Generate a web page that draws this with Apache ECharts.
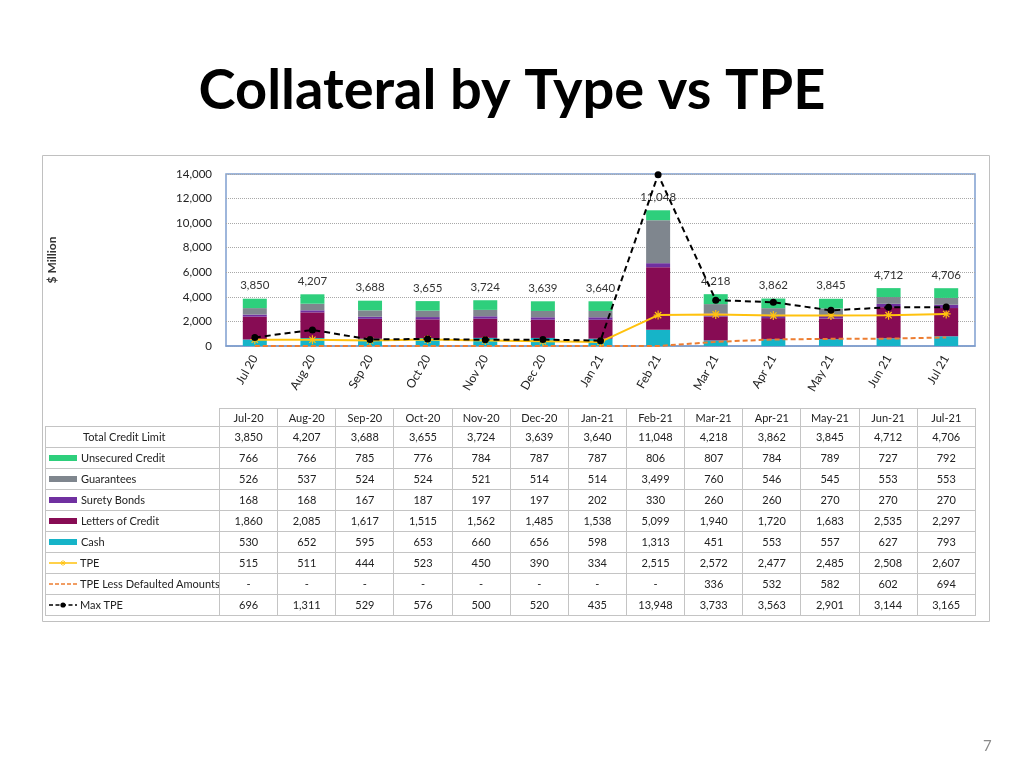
<!DOCTYPE html>
<html>
<head>
<meta charset="utf-8">
<script src="https://cdn.jsdelivr.net/npm/echarts@6/dist/echarts.min.js"></script>
<style>
  html, body { margin: 0; padding: 0; background: #fff; }
  #wrap { position: relative; width: 1024px; height: 768px; overflow: hidden; font-family: Lato, "Open Sans", sans-serif; }
  #chart { position: absolute; left: 0; top: 0; width: 1024px; height: 768px; }
  #tbl { position: absolute; left: 45px; top: 408px; border-collapse: collapse; font-size: 11px; color: #222; table-layout: fixed; }
  #tbl td { border: 1px solid #c4c4c4; text-align: center; padding: 0; height: 20px; line-height: 20px; white-space: nowrap; overflow: hidden; }
  #tbl tr.hdr td { height: 17px; line-height: 17px; }
  #tbl tr.hdr td.blank { border: none; }
  #tbl td.lab { text-align: left; padding-left: 3px; }
  .sw { display: inline-block; width: 28px; height: 6px; vertical-align: middle; margin-right: 4px; position: relative; top: -1px; }
  .ln { display: inline-block; width: 28px; height: 8px; vertical-align: middle; margin-right: 3px; position: relative; top: -1px; }
</style>
</head>
<body>
<div id="wrap">
  <div id="chart"></div>
  <table id="tbl"></table>
</div>
<script>
const categories = ['Jul 20','Aug 20','Sep 20','Oct 20','Nov 20','Dec 20','Jan 21','Feb 21','Mar 21','Apr 21','May 21','Jun 21','Jul 21'];
const columnLabels = ['Jul-20','Aug-20','Sep-20','Oct-20','Nov-20','Dec-20','Jan-21','Feb-21','Mar-21','Apr-21','May-21','Jun-21','Jul-21'];
const totalCreditLimit = [3850, 4207, 3688, 3655, 3724, 3639, 3640, 11048, 4218, 3862, 3845, 4712, 4706];
const unsecuredCredit = [766, 766, 785, 776, 784, 787, 787, 806, 807, 784, 789, 727, 792];
const guarantees = [526, 537, 524, 524, 521, 514, 514, 3499, 760, 546, 545, 553, 553];
const suretyBonds = [168, 168, 167, 187, 197, 197, 202, 330, 260, 260, 270, 270, 270];
const lettersOfCredit = [1860, 2085, 1617, 1515, 1562, 1485, 1538, 5099, 1940, 1720, 1683, 2535, 2297];
const cash = [530, 652, 595, 653, 660, 656, 598, 1313, 451, 553, 557, 627, 793];
const tpe = [515, 511, 444, 523, 450, 390, 334, 2515, 2572, 2477, 2485, 2508, 2607];
const tpeLessDefaulted = [null, null, null, null, null, null, null, null, 336, 532, 582, 602, 694];
const maxTpe = [696, 1311, 529, 576, 500, 520, 435, 13948, 3733, 3563, 2901, 3144, 3165];
const yTicks = [0, 2000, 4000, 6000, 8000, 10000, 12000, 14000];

const C = {
  unsecured: '#2ecf7c',
  guarantees: '#7f868e',
  surety: '#7030a0',
  loc: '#870c54',
  cash: '#16b4c8',
  tpe: '#ffc20e',
  tpeLess: '#ed7d31',
  max: '#000000'
};
const fmt = v => (v === null || v === undefined) ? '-' : v.toLocaleString('en-US');
const FONT = 'Lato, "Open Sans", sans-serif';

const chart = echarts.init(document.getElementById('chart'));
const asterisk = 'path://M5,0L5,10M0,5L10,5M1.5,1.5L8.5,8.5M8.5,1.5L1.5,8.5';

function barSeries(name, data, color, withLabel) {
  const s = {
    name, type: 'bar', stack: 'coll', data, barWidth: 24,
    itemStyle: { color }, z: 2
  };
  if (withLabel) {
    s.label = {
      show: true, position: 'top', distance: 7,
      fontFamily: FONT, fontSize: 11.5, color: '#333',
      formatter: p => fmt(totalCreditLimit[p.dataIndex])
    };
  }
  return s;
}

chart.setOption({
  animation: false,
  textStyle: { fontFamily: FONT },
  title: {
    text: 'Collateral by Type vs TPE',
    left: 'center', top: 58,
    textStyle: { fontFamily: FONT, fontWeight: 'bold', fontSize: 56, color: '#000' }
  },
  graphic: [
    { type: 'rect', shape: { x: 42.5, y: 155.5, width: 947, height: 466 }, style: { fill: 'none', stroke: '#c0c0c0', lineWidth: 1 }, z: -1 },
    { type: 'text', left: 983, top: 739, style: { text: '7', fontFamily: FONT, fontSize: 15, fill: '#8a8a8a' } }
  ],
  grid: {
    left: 226, right: 49, top: 174, bottom: 422,
    show: true, borderColor: '#7f9fcf', borderWidth: 1.5, backgroundColor: 'transparent'
  },
  xAxis: {
    type: 'category', data: categories,
    axisLine: { show: true, lineStyle: { color: '#7f9fcf', width: 1.5 } },
    axisTick: { show: false },
    axisLabel: { rotate: 60, fontFamily: FONT, fontSize: 12, color: '#222', margin: 10, interval: 0 }
  },
  yAxis: {
    type: 'value', min: yTicks[0], max: yTicks[yTicks.length - 1], interval: 2000,
    name: '$ Million', nameLocation: 'middle', nameGap: 168, nameRotate: 90,
    nameTextStyle: { fontFamily: FONT, fontSize: 12, fontWeight: 'bold', color: '#333' },
    axisLine: { show: false }, axisTick: { show: false },
    axisLabel: { fontFamily: FONT, fontSize: 11.5, color: '#222', margin: 14, formatter: v => fmt(v) },
    splitLine: { show: true, lineStyle: { color: '#a8a8a8', type: [1, 1], width: 1 } }
  },
  series: [
    barSeries('Cash', cash, C.cash, false),
    barSeries('Letters of Credit', lettersOfCredit, C.loc, false),
    barSeries('Surety Bonds', suretyBonds, C.surety, false),
    barSeries('Guarantees', guarantees, C.guarantees, false),
    barSeries('Unsecured Credit', unsecuredCredit, C.unsecured, true),
    {
      name: 'TPE Less Defaulted Amounts', type: 'line', z: 5,
      data: tpeLessDefaulted.map(v => v === null ? 0 : v),
      symbol: 'none', lineStyle: { color: C.tpeLess, width: 2, type: [5, 3] }
    },
    {
      name: 'TPE', type: 'line', data: tpe, z: 6,
      symbol: asterisk, symbolSize: 9, showAllSymbol: true,
      itemStyle: { color: C.tpe, borderColor: C.tpe, borderWidth: 1.2 },
      lineStyle: { color: C.tpe, width: 2 }
    },
    {
      name: 'Max TPE', type: 'line', data: maxTpe, z: 7,
      symbol: 'circle', symbolSize: 7,
      itemStyle: { color: C.max },
      lineStyle: { color: C.max, width: 2, type: [6, 4] }
    }
  ]
});

// data table
const rows = [
  { label: 'Total Credit Limit', data: totalCreditLimit, key: 'plain' },
  { label: 'Unsecured Credit', data: unsecuredCredit, key: 'sw', color: C.unsecured },
  { label: 'Guarantees', data: guarantees, key: 'sw', color: C.guarantees },
  { label: 'Surety Bonds', data: suretyBonds, key: 'sw', color: C.surety },
  { label: 'Letters of Credit', data: lettersOfCredit, key: 'sw', color: C.loc },
  { label: 'Cash', data: cash, key: 'sw', color: C.cash },
  { label: 'TPE', data: tpe, key: 'tpe' },
  { label: 'TPE Less Defaulted Amounts', data: tpeLessDefaulted, key: 'tpeLess' },
  { label: 'Max TPE', data: maxTpe, key: 'max' }
];
function keyHtml(r) {
  if (r.key === 'sw') return '<span class="sw" style="background:' + r.color + '"></span>';
  if (r.key === 'tpe') return '<svg class="ln" viewBox="0 0 28 8"><line x1="0" y1="4" x2="28" y2="4" stroke="' + C.tpe + '" stroke-width="1.5"/><path d="M14,1L14,7M11,4L17,4M12,2L16,6M16,2L12,6" stroke="' + C.tpe + '" stroke-width="0.8"/></svg>';
  if (r.key === 'tpeLess') return '<svg class="ln" viewBox="0 0 28 8"><line x1="0" y1="4" x2="28" y2="4" stroke="' + C.tpeLess + '" stroke-width="1.5" stroke-dasharray="4,2"/></svg>';
  if (r.key === 'max') return '<svg class="ln" viewBox="0 0 28 8"><line x1="0" y1="4" x2="28" y2="4" stroke="#000" stroke-width="1.5" stroke-dasharray="4,2.5"/><circle cx="14" cy="4" r="2.6" fill="#000"/></svg>';
  return '';
}
const labW = 174, colW = 58.15;
let html = '<colgroup><col style="width:' + labW + 'px">' + columnLabels.map(() => '<col style="width:' + colW + 'px">').join('') + '</colgroup>';
html += '<tr class="hdr"><td class="blank"></td>' + columnLabels.map(c => '<td>' + c + '</td>').join('') + '</tr>';
rows.forEach(r => {
  const lab = r.key === 'plain'
    ? '<td class="lab" style="padding-left:37px">' + r.label + '</td>'
    : '<td class="lab">' + keyHtml(r) + r.label + '</td>';
  html += '<tr>' + lab + r.data.map(v => '<td>' + fmt(v) + '</td>').join('') + '</tr>';
});
const tbl = document.getElementById('tbl');
tbl.style.width = (labW + colW * 13) + 'px';
tbl.innerHTML = html;
</script>
</body>
</html>
